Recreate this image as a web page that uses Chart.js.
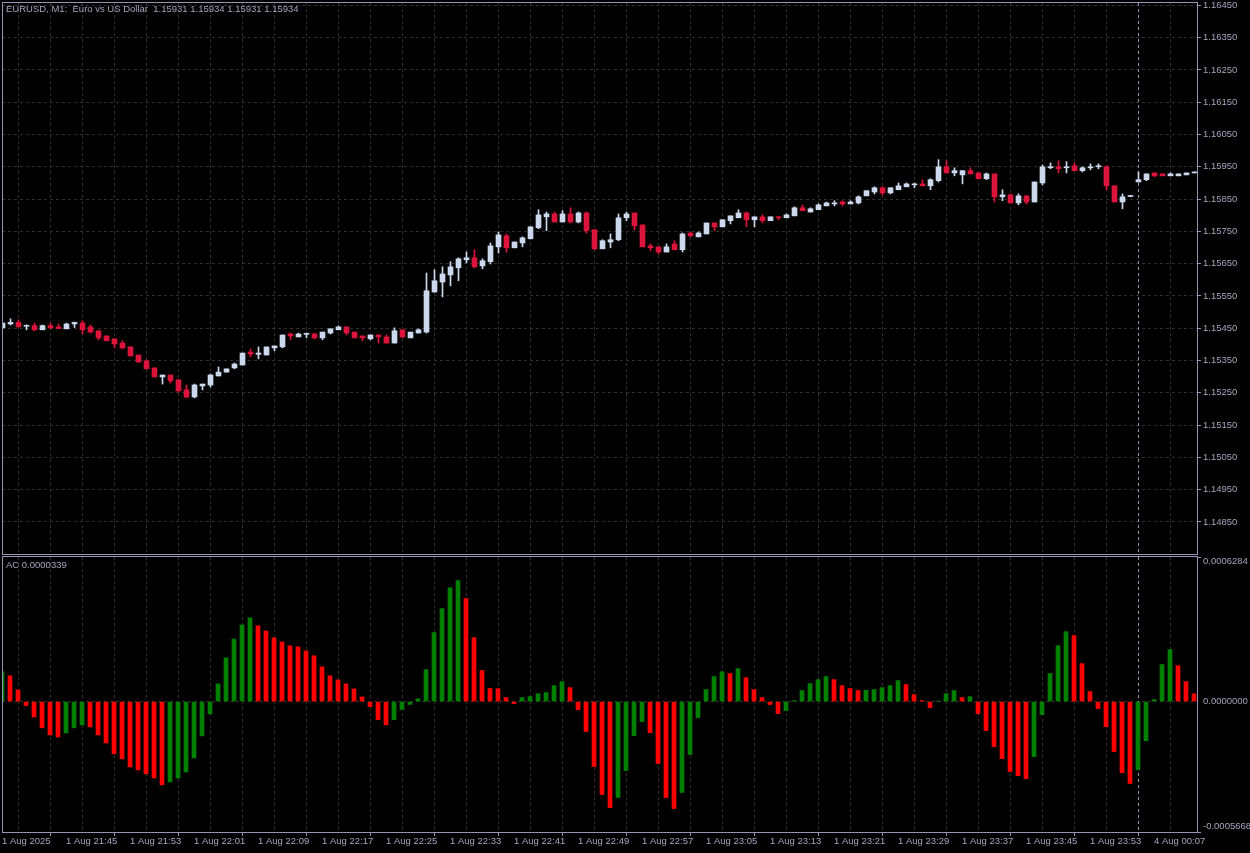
<!DOCTYPE html>
<html><head><meta charset="utf-8">
<script src="https://cdn.jsdelivr.net/npm/chart.js@4.4.1/dist/chart.umd.min.js"></script>
<style>
html,body{margin:0;padding:0;background:#000;}
#wrap{position:relative;width:1250px;height:853px;background:#000;overflow:hidden;}
canvas{position:absolute;left:0;}
#c1{top:0;width:1250px;height:555px;}
#c2{top:556px;width:1250px;height:297px;}
.lbl{position:absolute;font-family:"Liberation Sans",Arial,sans-serif;font-size:9.5px;color:#a4a4c0;white-space:pre;line-height:12px;}
</style></head><body>
<div id="wrap">
<canvas id="c1" width="1250" height="555"></canvas>
<canvas id="c2" width="1250" height="297"></canvas>
<div class="lbl" id="t1" style="left:6px;top:3px"></div>
<div class="lbl" id="t2" style="left:6px;top:559px"></div>
</div>
<script>
const symbolTitle = "EURUSD, M1:  Euro vs US Dollar  1.15931 1.15934 1.15931 1.15934";
const indicatorTitle = "AC 0.0000339";

const openP = [
1.15451,1.15463,1.15468,1.15456,1.15458,1.15445,1.15458,1.15454,1.15448,1.15463,
1.15466,1.15454,1.15442,1.15426,1.15417,1.15404,1.15392,1.15367,1.15349,1.15327,
1.15299,1.15305,1.15290,1.15259,1.15237,1.15271,1.15274,1.15302,1.15314,1.15327,
1.15336,1.15376,1.15369,1.15367,1.15389,1.15392,1.15432,1.15423,1.15431,1.15432,
1.15420,1.15435,1.15445,1.15454,1.15438,1.15426,1.15417,1.15429,1.15423,1.15404,
1.15445,1.15420,1.15435,1.15438,1.15562,1.15593,1.15615,1.15637,1.15662,1.15668,
1.15643,1.15656,1.15702,1.15736,1.15699,1.15714,1.15727,1.15761,1.15795,1.15804,
1.15779,1.15804,1.15779,1.15807,1.15755,1.15696,1.15717,1.15724,1.15792,1.15807,
1.15770,1.15705,1.15702,1.15686,1.15711,1.15693,1.15745,1.15733,1.15742,1.15776,
1.15764,1.15783,1.15792,1.15807,1.15786,1.15795,1.15783,1.15795,1.15792,1.15798,
1.15823,1.15810,1.15817,1.15829,1.15835,1.15841,1.15835,1.15838,1.15860,1.15872,
1.15885,1.15869,1.15879,1.15888,1.15894,1.15897,1.15891,1.15907,1.15950,1.15931,
1.15925,1.15938,1.15931,1.15913,1.15928,1.15857,1.15863,1.15838,1.15860,1.15841,
1.15900,1.15947,1.15950,1.15947,1.15953,1.15938,1.15947,1.15950,1.15950,1.15891,
1.15841,1.15858,1.15903,1.15910,1.15931,1.15928,1.15922,1.15922,1.15925,1.15931];

const highP = [
1.15466,1.15479,1.15476,1.15460,1.15466,1.15460,1.15466,1.15463,1.15466,1.15469,
1.15473,1.15460,1.15442,1.15426,1.15417,1.15411,1.15392,1.15367,1.15352,1.15327,
1.15305,1.15305,1.15290,1.15274,1.15277,1.15277,1.15308,1.15330,1.15324,1.15342,
1.15373,1.15386,1.15392,1.15392,1.15395,1.15429,1.15435,1.15435,1.15435,1.15435,
1.15438,1.15448,1.15457,1.15454,1.15438,1.15426,1.15429,1.15429,1.15429,1.15451,
1.15445,1.15438,1.15448,1.15621,1.15631,1.15640,1.15656,1.15668,1.15686,1.15693,
1.15665,1.15714,1.15748,1.15742,1.15717,1.15733,1.15764,1.15817,1.15810,1.15810,
1.15814,1.15823,1.15810,1.15810,1.15755,1.15724,1.15742,1.15804,1.15810,1.15807,
1.15770,1.15711,1.15702,1.15711,1.15721,1.15745,1.15748,1.15748,1.15776,1.15776,
1.15786,1.15798,1.15817,1.15810,1.15795,1.15801,1.15795,1.15795,1.15804,1.15826,
1.15832,1.15823,1.15835,1.15841,1.15845,1.15845,1.15845,1.15860,1.15876,1.15888,
1.15888,1.15885,1.15900,1.15900,1.15900,1.15910,1.15913,1.15972,1.15969,1.15947,
1.15938,1.15947,1.15931,1.15931,1.15928,1.15879,1.15866,1.15866,1.15860,1.15903,
1.15956,1.15962,1.15969,1.15966,1.15962,1.15950,1.15959,1.15959,1.15953,1.15891,
1.15866,1.15860,1.15934,1.15928,1.15931,1.15928,1.15931,1.15928,1.15931,1.15934];

const lowP = [
1.15451,1.15460,1.15454,1.15445,1.15442,1.15445,1.15448,1.15449,1.15448,1.15452,
1.15432,1.15435,1.15414,1.15411,1.15389,1.15386,1.15364,1.15345,1.15324,1.15299,
1.15277,1.15280,1.15252,1.15234,1.15234,1.15259,1.15268,1.15302,1.15314,1.15324,
1.15336,1.15361,1.15355,1.15367,1.15380,1.15389,1.15414,1.15423,1.15420,1.15417,
1.15414,1.15432,1.15445,1.15429,1.15420,1.15411,1.15414,1.15404,1.15404,1.15404,
1.15420,1.15420,1.15435,1.15435,1.15562,1.15547,1.15581,1.15597,1.15652,1.15637,
1.15634,1.15649,1.15683,1.15686,1.15699,1.15702,1.15727,1.15758,1.15752,1.15779,
1.15779,1.15776,1.15776,1.15745,1.15693,1.15696,1.15699,1.15721,1.15783,1.15755,
1.15702,1.15690,1.15680,1.15686,1.15693,1.15686,1.15733,1.15733,1.15742,1.15752,
1.15764,1.15773,1.15792,1.15764,1.15764,1.15776,1.15783,1.15786,1.15792,1.15798,
1.15814,1.15810,1.15817,1.15829,1.15829,1.15829,1.15835,1.15835,1.15860,1.15866,
1.15863,1.15866,1.15879,1.15888,1.15885,1.15891,1.15879,1.15903,1.15931,1.15922,
1.15897,1.15928,1.15913,1.15910,1.15841,1.15845,1.15838,1.15832,1.15835,1.15841,
1.15894,1.15944,1.15931,1.15931,1.15938,1.15934,1.15941,1.15944,1.15879,1.15841,
1.15820,1.15857,1.15903,1.15907,1.15919,1.15922,1.15922,1.15922,1.15925,1.15931];

const closeP = [
1.15466,1.15468,1.15454,1.15459,1.15445,1.15458,1.15451,1.15449,1.15463,1.15468,
1.15445,1.15438,1.15420,1.15411,1.15401,1.15389,1.15364,1.15345,1.15324,1.15299,
1.15305,1.15287,1.15256,1.15237,1.15274,1.15277,1.15305,1.15314,1.15324,1.15339,
1.15373,1.15370,1.15373,1.15392,1.15395,1.15429,1.15426,1.15432,1.15434,1.15420,
1.15438,1.15448,1.15454,1.15435,1.15420,1.15420,1.15429,1.15423,1.15404,1.15442,
1.15423,1.15438,1.15445,1.15566,1.15597,1.15618,1.15640,1.15665,1.15668,1.15640,
1.15659,1.15705,1.15739,1.15699,1.15717,1.15730,1.15764,1.15801,1.15804,1.15779,
1.15804,1.15779,1.15807,1.15752,1.15696,1.15721,1.15724,1.15792,1.15804,1.15767,
1.15702,1.15699,1.15686,1.15702,1.15693,1.15742,1.15736,1.15745,1.15776,1.15764,
1.15786,1.15798,1.15807,1.15786,1.15795,1.15783,1.15795,1.15792,1.15801,1.15823,
1.15814,1.15820,1.15832,1.15838,1.15838,1.15835,1.15841,1.15857,1.15876,1.15885,
1.15869,1.15885,1.15891,1.15897,1.15897,1.15891,1.15910,1.15950,1.15931,1.15938,
1.15938,1.15928,1.15913,1.15928,1.15857,1.15863,1.15838,1.15860,1.15841,1.15903,
1.15950,1.15950,1.15944,1.15950,1.15938,1.15947,1.15950,1.15953,1.15891,1.15841,
1.15857,1.15859,1.15910,1.15928,1.15922,1.15922,1.15928,1.15928,1.15931,1.15934];

const acValues = [
0.000129,0.000112,0.0000507,-0.0000174,-0.0000667,-0.000114,-0.000145,-0.000154,-0.000136,-0.000114,
-0.000101,-0.000110,-0.000145,-0.000180,-0.000227,-0.000249,-0.000284,-0.000297,-0.000314,-0.000332,
-0.000362,-0.000349,-0.000332,-0.000306,-0.000245,-0.000149,-0.0000536,0.0000768,0.000190,0.000272,
0.000333,0.000364,0.000329,0.000307,0.000277,0.000259,0.000242,0.000238,0.000220,0.000199,
0.000151,0.000112,0.0000942,0.0000768,0.0000551,0.0000203,-0.0000217,-0.0000782,-0.000101,-0.0000782,
-0.0000348,-0.0000124,0.0000123,0.000139,0.000300,0.000404,0.000495,0.000526,0.000448,0.000278,
0.000135,0.0000570,0.0000560,0.0000174,-0.0000087,0.0000174,0.0000217,0.0000348,0.0000391,0.0000695,
0.0000869,0.0000608,-0.0000348,-0.000130,-0.000282,-0.000404,-0.000461,-0.000417,-0.000300,-0.000148,
-0.0000869,-0.000135,-0.000269,-0.000417,-0.000465,-0.000395,-0.000230,-0.0000695,0.0000521,0.000109,
0.000130,0.000122,0.000143,0.000104,0.0000521,0.0000174,-0.0000130,-0.0000521,-0.0000391,0.0000043,
0.0000478,0.0000782,0.0000956,0.000109,0.0000956,0.0000695,0.0000565,0.0000478,0.0000490,0.0000521,
0.0000608,0.0000695,0.0000913,0.0000739,0.0000304,0.0000043,-0.0000261,0.0000015,0.0000348,0.0000478,
0.0000174,0.0000217,-0.0000521,-0.000126,-0.000196,-0.000248,-0.000304,-0.000322,-0.000335,-0.000239,
-0.0000565,0.000122,0.000243,0.000304,0.000287,0.000165,0.0000435,-0.0000304,-0.000109,-0.000217,
-0.000309,-0.000356,-0.000296,-0.000170,0.0000087,0.000161,0.000226,0.000156,0.0000869,0.0000339];

const priceTicks = [1.16450,1.16350,1.16250,1.16150,1.16050,1.15950,1.15850,1.15750,1.15650,
  1.15550,1.15450,1.15350,1.15250,1.15150,1.15050,1.14950,1.14850];
const acTicks = [0.0006284, 0.0000000, -0.0005668];
const timeLabels = ["1 Aug 2025","1 Aug 21:45","1 Aug 21:53","1 Aug 22:01","1 Aug 22:09","1 Aug 22:17",
  "1 Aug 22:25","1 Aug 22:33","1 Aug 22:41","1 Aug 22:49","1 Aug 22:57","1 Aug 23:05","1 Aug 23:13",
  "1 Aug 23:21","1 Aug 23:29","1 Aug 23:37","1 Aug 23:45","1 Aug 23:53","4 Aug 00:07"];
const separatorBar = 142;

document.getElementById('t1').textContent = symbolTitle;
document.getElementById('t2').textContent = indicatorTitle;

const BULL = '#cbd8ee', BEAR = '#dc143c', UPC = '#008000', DNC = '#ff0000';
const FG = '#a4a4c0', FRAME = '#9494b4', GRID = '#2f2f2f';
const FONT = {family: "'Liberation Sans', Arial, sans-serif", size: 9.5};
const BARS_VISIBLE = 1195 / 8;

const idx = closeP.map((_, i) => i);
const candleColors = idx.map(i => closeP[i] >= openP[i] ? BULL : BEAR);
const acColors = acValues.map((v, i) => (i === 0 || v > acValues[i - 1]) ? UPC : DNC);
const gridIdx = idx.filter(i => i % 4 === 0);

const framePlugin = {
  id: 'frame',
  beforeDatasetsDraw(chart) {
    const a = chart.chartArea, ctx = chart.ctx;
    const x = Math.floor(chart.scales.x.getPixelForValue(separatorBar)) + 0.5;
    ctx.save();
    ctx.strokeStyle = FRAME; ctx.lineWidth = 1; ctx.setLineDash([3, 3]);
    ctx.beginPath(); ctx.moveTo(x, a.top); ctx.lineTo(x, a.bottom); ctx.stroke();
    ctx.restore();
  },
  afterDraw(chart) {
    const a = chart.chartArea, ctx = chart.ctx;
    ctx.save();
    ctx.strokeStyle = FRAME; ctx.lineWidth = 1; ctx.setLineDash([]);
    ctx.strokeRect(a.left + 0.5, a.top - 0.5, a.right - a.left, a.bottom - a.top + 1);
    ctx.restore();
  }
};

const acLabelPlugin = {
  id: 'acLabels',
  afterDraw(chart) {
    const ys = chart.scales.y, ctx = chart.ctx, a = chart.chartArea;
    ctx.save();
    ctx.fillStyle = FG;
    ctx.font = "9.5px 'Liberation Sans', Arial, sans-serif";
    ctx.textBaseline = 'middle'; ctx.textAlign = 'left';
    acTicks.forEach(v => {
      let y = ys.getPixelForValue(v);
      if (v === ys.max) y += 4.7;
      if (v === ys.min) y -= 5.3;
      ctx.fillText(v.toFixed(7), a.right + 6, y);
    });
    ctx.restore();
  }
};

new Chart(document.getElementById('c1'), {
  type: 'bar',
  data: {
    datasets: [
      { label: 'body', data: idx.map(i => ({x: i, y: [openP[i], closeP[i]]})),
        backgroundColor: candleColors, borderWidth: 0, barThickness: 5, minBarLength: 1,
        grouped: false, order: 0, clip: 0 },
      { label: 'wick', data: idx.map(i => ({x: i, y: [lowP[i], highP[i]]})),
        backgroundColor: candleColors, borderWidth: 0, barThickness: 1, minBarLength: 1,
        grouped: false, order: 1, clip: 0 }
    ]
  },
  options: {
    responsive: false, animation: false, events: [],
    layout: {padding: {left: 2, top: 3, right: 0, bottom: 1}},
    plugins: {legend: {display: false}, tooltip: {enabled: false}},
    scales: {
      x: {
        type: 'linear', min: -0.0625, max: -0.0625 + BARS_VISIBLE, offset: false,
        afterBuildTicks: s => { s.ticks = gridIdx.map(v => ({value: v})); },
        afterFit: s => { s.height = 0; s.paddingLeft = 0; s.paddingRight = 0; },
        ticks: {display: false},
        grid: {color: c => (c.tick && c.tick.value === 0) ? 'transparent' : GRID, drawTicks: false},
        border: {display: false, dash: [3, 3]}
      },
      y: {
        type: 'linear', position: 'right', min: 1.147505, max: 1.164574,
        afterBuildTicks: s => { s.ticks = priceTicks.map(v => ({value: v})); },
        afterFit: s => { s.width = 53; s.paddingTop = 0; s.paddingBottom = 0; },
        ticks: {color: FG, font: FONT, padding: 2, callback: v => Number(v).toFixed(5)},
        grid: {color: GRID, tickColor: FRAME, tickLength: 4, tickBorderDash: []},
        border: {display: false, dash: [3, 3]}
      }
    }
  },
  plugins: [framePlugin]
});

new Chart(document.getElementById('c2'), {
  type: 'bar',
  data: {
    datasets: [
      { label: 'AC', data: idx.map(i => ({x: i, y: acValues[i]})),
        backgroundColor: acColors, borderWidth: 0, barThickness: 4,
        grouped: false, clip: 0 }
    ]
  },
  options: {
    responsive: false, animation: false, events: [],
    layout: {padding: {left: 2, top: 1, right: 0, bottom: 0}},
    plugins: {legend: {display: false}, tooltip: {enabled: false}},
    scales: {
      x: {
        type: 'linear', min: 0, max: BARS_VISIBLE, offset: false,
        afterBuildTicks: s => { s.ticks = gridIdx.map(v => ({value: v})); },
        afterFit: s => { s.height = 21; s.paddingLeft = 0; s.paddingRight = 0; },
        ticks: {autoSkip: false, maxRotation: 0, minRotation: 0, align: 'start', padding: 0,
          color: FG, font: FONT,
          callback: v => (v % 8 === 0 && timeLabels[v / 8] !== undefined) ? timeLabels[v / 8] : ''},
        grid: {color: c => (c.tick && c.tick.value === 0) ? 'transparent' : GRID,
          tickColor: c => (c.tick && c.tick.value % 8 === 0) ? FRAME : 'transparent',
          tickLength: 4, tickBorderDash: []},
        border: {display: false, dash: [3, 3]}
      },
      y: {
        type: 'linear', position: 'right', min: -0.0005668, max: 0.0006284,
        afterBuildTicks: s => { s.ticks = acTicks.map(v => ({value: v})); },
        afterFit: s => { s.width = 53; s.paddingTop = 0; s.paddingBottom = 0; },
        ticks: {display: false},
        grid: {color: c => (c.tick && c.tick.value === 0) ? GRID : 'transparent',
          tickColor: c => (c.tick && c.tick.value === 0) ? 'transparent' : FRAME,
          tickLength: 4, tickBorderDash: []},
        border: {display: false, dash: [3, 3]}
      }
    }
  },
  plugins: [framePlugin, acLabelPlugin]
});
</script>
</body></html>
